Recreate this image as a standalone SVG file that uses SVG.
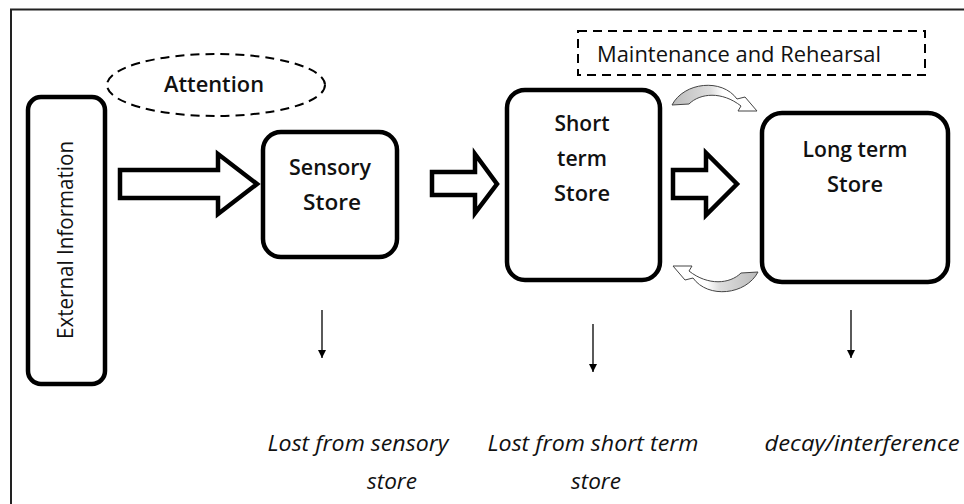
<svg xmlns="http://www.w3.org/2000/svg" width="964" height="504" viewBox="0 0 964 504">
<style>
.box{fill:#fff;stroke:#000;stroke-width:4.5}
.blk{fill:#fff;stroke:#000;stroke-width:4.5;stroke-linejoin:miter}
.dash{fill:none;stroke:#000;stroke-width:2;stroke-dasharray:9,6}
.lbl{font-family:"Open Sans","Noto Sans",sans-serif;font-size:21px;font-weight:600;fill:#111;text-anchor:middle}
.reg{font-family:"Open Sans","Noto Sans",sans-serif;font-size:21px;fill:#111}
.it{font-family:"Open Sans","Noto Sans",sans-serif;font-size:22px;font-style:italic;fill:#111}
.down{stroke:#000;stroke-width:1.3}
.curv{stroke:#444;stroke-width:1;fill:url(#g)}
</style>
<defs>
<marker id="ah" viewBox="0 0 10 10" refX="10" refY="5" markerWidth="8" markerHeight="10" markerUnits="userSpaceOnUse" orient="auto">
<path d="M0,0 L10,5 L0,10 Z" fill="#000"/>
</marker>
<linearGradient id="g" x1="0" y1="0" x2="1" y2="0">
<stop offset="0" stop-color="#bbb"/>
<stop offset="0.45" stop-color="#ddd"/>
<stop offset="0.6" stop-color="#fff"/>
<stop offset="1" stop-color="#fff"/>
</linearGradient>
</defs>
<rect width="964" height="504" fill="#fff"/>
<path d="M11,504 L11,9.5 L964,9.5" fill="none" stroke="#222" stroke-width="2"/>

<g id="external">
<rect class="box" x="28" y="97" width="77" height="287" rx="13"/>
<text class="reg" transform="translate(73,240) rotate(-90)" text-anchor="middle" textLength="198" lengthAdjust="spacingAndGlyphs">External Information</text>
</g>
<g id="attention">
<ellipse class="dash" cx="216" cy="85" rx="109" ry="31"/>
<text class="lbl" x="214" y="92" textLength="100" lengthAdjust="spacingAndGlyphs">Attention</text>
</g>
<g id="sensory">
<rect class="box" x="263" y="132" width="134" height="125" rx="18"/>
<text class="lbl" x="330" y="175" textLength="82" lengthAdjust="spacingAndGlyphs">Sensory</text>
<text class="lbl" x="332" y="210" textLength="58" lengthAdjust="spacingAndGlyphs">Store</text>
</g>
<g id="shortterm">
<rect class="box" x="507" y="90" width="153" height="190" rx="18"/>
<text class="lbl" x="582" y="131" textLength="55" lengthAdjust="spacingAndGlyphs">Short</text>
<text class="lbl" x="582" y="166" textLength="50" lengthAdjust="spacingAndGlyphs">term</text>
<text class="lbl" x="582" y="201" textLength="56" lengthAdjust="spacingAndGlyphs">Store</text>
</g>
<g id="longterm">
<rect class="box" x="762" y="113" width="186" height="169" rx="20"/>
<text class="lbl" x="855" y="157" textLength="105" lengthAdjust="spacingAndGlyphs">Long term</text>
<text class="lbl" x="855" y="192" textLength="56" lengthAdjust="spacingAndGlyphs">Store</text>
</g>
<g id="maintenance">
<rect class="dash" x="578" y="31" width="347" height="44"/>
<text class="reg" x="597" y="62" textLength="284" lengthAdjust="spacingAndGlyphs">Maintenance and Rehearsal</text>
</g>
<g id="lost-sensory">
<text class="it" x="358" y="451" text-anchor="middle" textLength="181" lengthAdjust="spacingAndGlyphs">Lost from sensory</text>
<text class="it" x="392" y="489" text-anchor="middle" textLength="50" lengthAdjust="spacingAndGlyphs">store</text>
</g>
<g id="lost-short">
<text class="it" x="593" y="451" text-anchor="middle" textLength="211" lengthAdjust="spacingAndGlyphs">Lost from short term</text>
<text class="it" x="596" y="489" text-anchor="middle" textLength="50" lengthAdjust="spacingAndGlyphs">store</text>
</g>
<g id="decay">
<text class="it" x="862" y="451" text-anchor="middle" textLength="195" lengthAdjust="spacingAndGlyphs">decay/interference</text>
</g>

<g id="connectors">
<path class="blk" d="M120,170 L218,170 L218,154 L257,184 L218,214 L218,198 L120,198 Z"/>
<path class="blk" d="M432,172 L475,172 L475,154 L497,184 L475,213 L475,195 L432,195 Z"/>
<path class="blk" d="M673,170 L706,170 L706,153 L737,184 L706,215 L706,198 L673,198 Z"/>
<path class="curv" d="M672,105 C684,82 722,78 737,99 L745,97 L757,111 L738,111 L741,106 C722,91 700,93 689,104 Z"/>
<path class="curv" transform="rotate(180 712 97) translate(-6 -183)" d="M672,105 C684,82 722,78 737,99 L745,97 L757,111 L738,111 L741,106 C722,91 700,93 689,104 Z"/>
<line class="down" x1="322" y1="310" x2="322" y2="358" marker-end="url(#ah)"/>
<line class="down" x1="593" y1="324" x2="593" y2="372" marker-end="url(#ah)"/>
<line class="down" x1="851" y1="310" x2="851" y2="358" marker-end="url(#ah)"/>
</g>
</svg>
